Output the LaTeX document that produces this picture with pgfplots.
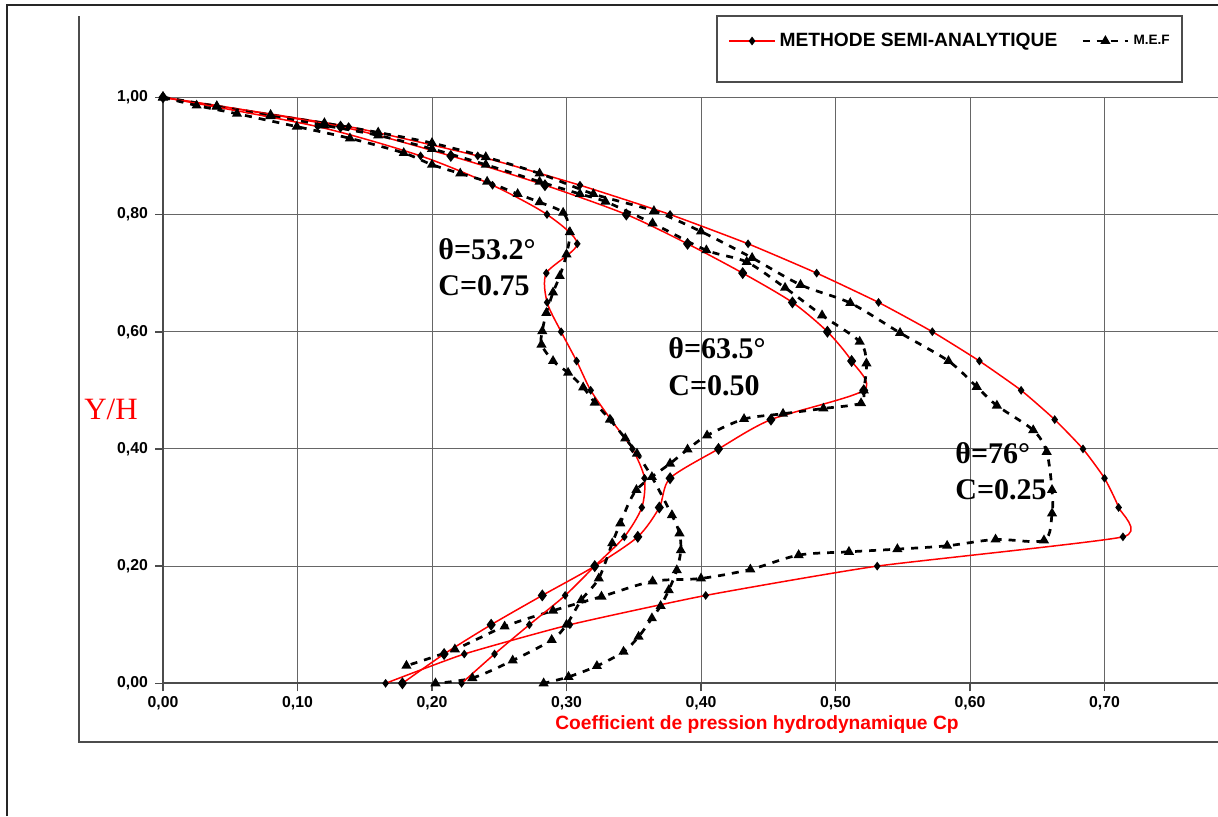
\documentclass[border=0pt]{standalone}
\usepackage{fontspec}
\setmainfont{Liberation Sans}
\newfontfamily\timesf{Liberation Serif}
\usepackage{pgfplots}
\pgfplotsset{compat=1.18}
\definecolor{gridgray}{gray}{0.4}
\definecolor{axgray}{gray}{0.3}
\begin{document}
\begin{tikzpicture}
\useasboundingbox (0,0) rectangle (609pt,-408pt);
% frames
\draw[black!85, line width=1pt] (3.7pt,-408pt) -- (3.7pt,-2.5pt) -- (609pt,-2.5pt);
\draw[axgray, line width=1pt] (39.5pt,-8pt) -- (39.5pt,-371pt) -- (609pt,-371pt);
% legend box
\draw[axgray, line width=0.8pt] (358.5pt,-8pt) rectangle (591pt,-41pt);
\begin{axis}[
  scale only axis, width=527.5pt, height=293pt,
  at={(81.5pt,-341.65pt)}, anchor=south west,
  xmin=0, xmax=0.7844, ymin=0, ymax=1,
  clip=false,
  xtick={0,0.1,0.2,0.3,0.4,0.5,0.6,0.7},
  ytick={0,0.2,0.4,0.6,0.8,1},
  grid=major, grid style={gridgray, line width=0.5pt},
  axis x line*=bottom, axis y line*=left,
  axis line style={axgray, line width=1pt, -},
  tick align=outside, major tick length=4pt,
  tick style={axgray, line width=0.8pt},
  ticklabel style={font=\fontsize{7.9}{9}\selectfont\bfseries},
  xticklabel style={yshift=1pt},
  /pgf/number format/.cd, fixed, fixed zerofill, precision=2, use comma, assume math mode=true,
  /pgfplots/.cd,
  xlabel={Coefficient de pression hydrodynamique Cp},
  xlabel style={font=\fontsize{9.6}{11}\selectfont\bfseries, text=red,
     at={(axis description cs:0.563,-0.0695)}, anchor=center},
  legend style={draw=none, fill=none, at={(axis description cs:0.530,1.0961)}, anchor=west,
     font=\fontsize{9.6}{11}\selectfont\bfseries, legend columns=2,
     /tikz/every even column/.append style={column sep=10pt}},
  legend image code/.code={\draw[mark repeat=2,mark phase=2] plot coordinates {(0cm,0cm) (0.4cm,0cm) (0.8cm,0cm)};},
  semian/.style={color=red, line width=0.75pt, smooth, tension=0.45, mark=diamond*, mark options={solid, fill=black, draw=black}},
  mefst/.style={color=black, line width=1.35pt, dash pattern=on 3.5pt off 3.5pt, smooth, tension=0.5, mark=triangle*, mark size=1.6pt, mark options={solid, fill=black, draw=black}},
]
% theta=76, C=0.25
\addplot[semian, tension=0.3, mark size=1.6pt] coordinates {
(0.1655,0) (0.224,0.05) (0.3025,0.10) (0.4035,0.15) (0.531,0.20) (0.7137,0.25) (0.7105,0.30) (0.700,0.35) (0.684,0.40) (0.663,0.45) (0.638,0.50) (0.607,0.55) (0.572,0.60) (0.532,0.65) (0.486,0.70) (0.435,0.75) (0.377,0.80) (0.310,0.85) (0.234,0.90) (0.138,0.95) (0,1)};
\addlegendentry{METHODE SEMI-ANALYTIQUE}
\addplot[mefst] coordinates {
(0,1) (0.04,0.985) (0.08,0.97) (0.12,0.956) (0.16,0.94) (0.20,0.922) (0.24,0.898) (0.28,0.87) (0.32,0.835) (0.365,0.806) (0.40,0.771) (0.438,0.726) (0.474,0.68) (0.511,0.649) (0.548,0.598) (0.584,0.55) (0.605,0.506) (0.62,0.474) (0.647,0.432) (0.657,0.395) (0.661,0.33) (0.661,0.29) (0.655,0.244) (0.619,0.2455) (0.583,0.2347) (0.546,0.229) (0.51,0.2244) (0.4726,0.2188) (0.4367,0.1943) (0.40,0.179) (0.364,0.174) (0.326,0.148) (0.29,0.124) (0.254,0.097) (0.217,0.058) (0.181,0.03)};
\addlegendentry{\fontsize{6.8}{8}\selectfont M.E.F}
% theta=63.5, C=0.50
\addplot[semian, mark size=2.4pt, forget plot] coordinates {
(0.178,0) (0.209,0.05) (0.244,0.10) (0.282,0.15) (0.321,0.20) (0.353,0.25) (0.369,0.30) (0.377,0.35) (0.413,0.40) (0.452,0.45) (0.521,0.50) (0.512,0.55) (0.494,0.60) (0.468,0.65) (0.431,0.70) (0.390,0.75) (0.3445,0.80) (0.284,0.85) (0.214,0.90) (0.132,0.95) (0,1)};
\addplot[mefst, forget plot] coordinates {
(0,1) (0.04,0.984) (0.08,0.968) (0.12,0.952) (0.16,0.935) (0.20,0.912) (0.24,0.885) (0.28,0.856) (0.31,0.835) (0.329,0.822) (0.364,0.785) (0.404,0.739) (0.434,0.719) (0.4625,0.675) (0.49,0.628) (0.518,0.583) (0.523,0.546) (0.521,0.50) (0.519,0.478) (0.491,0.469) (0.461,0.46) (0.432,0.451) (0.4045,0.423) (0.390,0.399) (0.377,0.375) (0.352,0.33) (0.34,0.273) (0.334,0.239) (0.324,0.179) (0.311,0.142) (0.30,0.10) (0.289,0.074) (0.26,0.039) (0.23,0.009) (0.2026,0.0)};
% theta=53.2, C=0.75
\addplot[semian, mark size=1.6pt, forget plot] coordinates {
(0.222,0) (0.2465,0.05) (0.2724,0.10) (0.299,0.15) (0.321,0.20) (0.343,0.25) (0.356,0.30) (0.358,0.35) (0.349,0.40) (0.333,0.45) (0.318,0.50) (0.3075,0.55) (0.296,0.60) (0.2856,0.65) (0.285,0.70) (0.308,0.75) (0.2855,0.80) (0.245,0.85) (0.1915,0.90) (0.115,0.95) (0,1)};
\addplot[mefst, forget plot] coordinates {
(0,1) (0.025,0.986) (0.055,0.972) (0.0995,0.95) (0.139,0.93) (0.179,0.905) (0.20,0.885) (0.221,0.87) (0.241,0.856) (0.2637,0.835) (0.28,0.821) (0.2975,0.803) (0.3025,0.77) (0.30,0.732) (0.295,0.695) (0.290,0.667) (0.285,0.632) (0.282,0.601) (0.2814,0.578) (0.290,0.55) (0.3012,0.53) (0.3124,0.505) (0.321,0.479) (0.3323,0.45) (0.3437,0.418) (0.3524,0.392) (0.3635,0.352) (0.3784,0.287) (0.384,0.256) (0.385,0.227) (0.382,0.193) (0.376,0.159) (0.370,0.132) (0.3635,0.111) (0.3536,0.0795) (0.3424,0.054) (0.3226,0.0295) (0.3015,0.011) (0.283,0.0)};
\end{axis}
% labels
\node[text=red, font=\timesf\fontsize{15.5}{17}\selectfont] at (55.5pt,-204.5pt) {Y/H};
\begin{scope}[every node/.style={anchor=west, inner sep=0pt, font=\timesf\bfseries\fontsize{15}{17}\selectfont}]
\node at (219pt,-124.5pt) {θ=53.2°};
\node at (219pt,-143pt) {C=0.75};
\node at (334pt,-174pt) {θ=63.5°};
\node at (334pt,-193pt) {C=0.50};
\node at (477.5pt,-226.5pt) {θ=76°};
\node at (477.5pt,-245pt) {C=0.25};
\end{scope}
\end{tikzpicture}
\end{document}
